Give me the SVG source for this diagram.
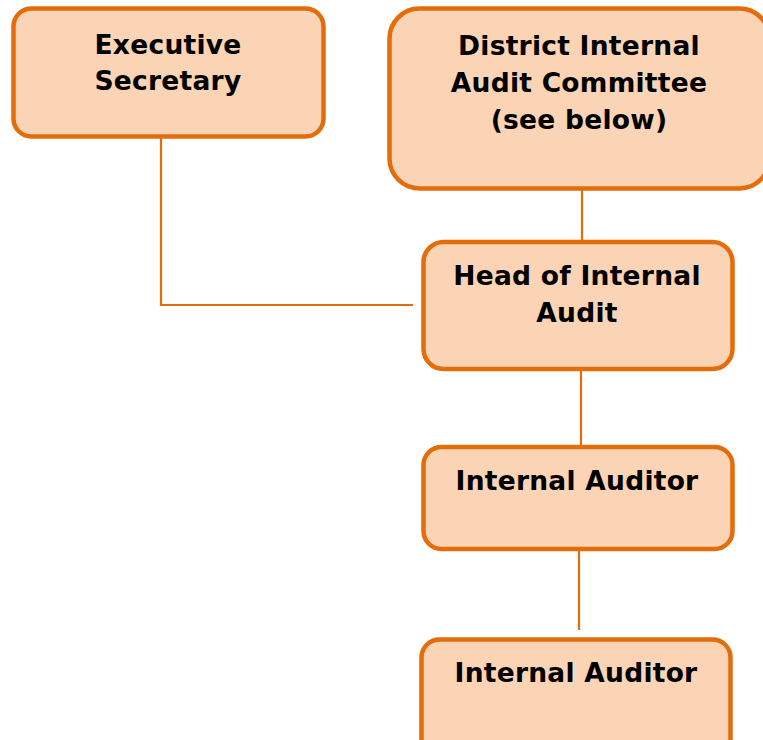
<svg xmlns="http://www.w3.org/2000/svg" width="763" height="740" viewBox="0 0 763 740">
  <style>
    .box { fill: #FAD4B4; stroke: #E46C0A; stroke-width: 4.5; }
    .lbl { font-family: "DejaVu Sans", Verdana, sans-serif; font-weight: bold; font-size: 26.5px; letter-spacing: 0.25px; fill: #000; text-anchor: middle; }
    .link { fill: none; stroke: #E46C0A; stroke-width: 2.2; }
  </style>
  <rect width="763" height="740" fill="#fff"/>

  <!-- connectors -->
  <g id="connectors">
    <polyline class="link" points="161,137 161,305 413,305"/>
    <line class="link" x1="582" y1="188" x2="582" y2="242"/>
    <line class="link" x1="581" y1="369" x2="581" y2="447"/>
    <line class="link" x1="579" y1="549" x2="579" y2="630"/>
  </g>

  <g id="executive-secretary">
    <rect class="box" x="13.5" y="8.5" width="310" height="128" rx="18"/>
    <text class="lbl" x="168" y="54">Executive</text>
    <text class="lbl" x="168" y="90">Secretary</text>
  </g>

  <g id="audit-committee">
    <rect class="box" x="389.5" y="8.5" width="380" height="180" rx="30"/>
    <text class="lbl" x="579" y="55">District Internal</text>
    <text class="lbl" x="579" y="92">Audit Committee</text>
    <text class="lbl" x="579" y="129">(see below)</text>
  </g>

  <g id="head-of-internal-audit">
    <rect class="box" x="423.5" y="242" width="309" height="127" rx="20"/>
    <text class="lbl" x="577" y="285">Head of Internal</text>
    <text class="lbl" x="577" y="322">Audit</text>
  </g>

  <g id="internal-auditor-1">
    <rect class="box" x="423.5" y="447" width="309" height="102" rx="18"/>
    <text class="lbl" x="577" y="490">Internal Auditor</text>
  </g>

  <g id="internal-auditor-2">
    <rect class="box" x="421.5" y="639.5" width="309" height="120" rx="18"/>
    <text class="lbl" x="576" y="682">Internal Auditor</text>
  </g>
</svg>
